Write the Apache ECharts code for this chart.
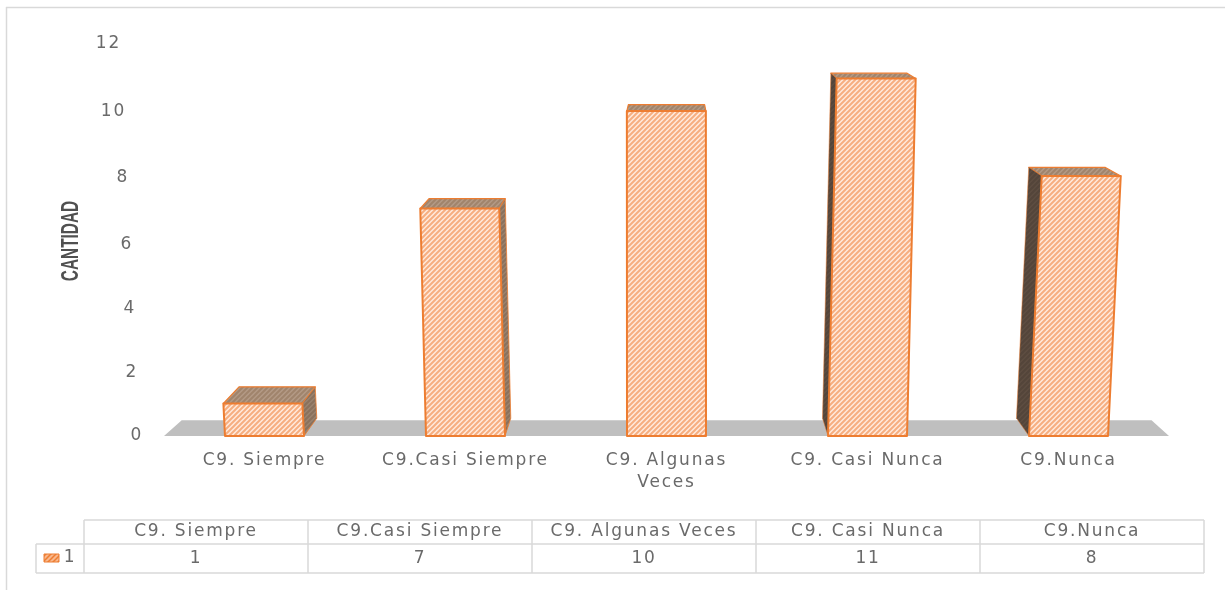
<!DOCTYPE html>
<html><head><meta charset="utf-8">
<style>html,body{margin:0;background:#fff}#c{width:1225px;height:590px;filter:blur(0.6px)}</style>
<script src="https://cdn.jsdelivr.net/npm/echarts@6/dist/echarts.min.js"></script>
</head><body><div id="c"></div>
<script>
const categories = ['C9. Siempre','C9.Casi Siempre','C9. Algunas Veces','C9. Casi Nunca','C9.Nunca'];
const values = [1,7,10,11,8];
const tableHeaders = ['C9. Siempre','C9.Casi Siempre','C9. Algunas Veces','C9. Casi Nunca','C9.Nunca'];
const seriesName = '1';
const yTicks = [0,2,4,6,8,10,12];

// the reference's stretched text
const ft = CanvasRenderingContext2D.prototype.fillText;
let spacing = '1.8px';
CanvasRenderingContext2D.prototype.fillText = function(t,x,y,m){
  this.letterSpacing = this.font.indexOf('bold') >= 0 ? '0px' : spacing;
  return m === undefined ? ft.call(this,t,x,y) : ft.call(this,t,x,y,m);
};

function hatch(bg, fg, lw){
  const p = 5, cv = document.createElement('canvas');
  cv.width = p; cv.height = p;
  const x = cv.getContext('2d');
  x.fillStyle = bg; x.fillRect(0,0,p,p);
  x.strokeStyle = fg; x.lineWidth = lw;
  x.beginPath();
  x.moveTo(-p,p); x.lineTo(p,-p);
  x.moveTo(0,2*p); x.lineTo(2*p,0);
  x.moveTo(0,p); x.lineTo(p,0);
  x.stroke();
  return {image:cv, repeat:'repeat'};
}
const ORANGE = '#ED7D31';
const frontFill = hatch('#FFEADC', '#F6AE80', 2);
const topFill = hatch('#B39A86', '#A0846C', 2);
const rightFill = hatch('#9A8370', '#8A715C', 2);
const leftFill = hatch('#5E4E42', '#54453A', 2);
const VP = [670,-73], T = 0.035, SKEW = 0.004, BARW = 79;

const back = p => [p[0]+(VP[0]-p[0])*T, p[1]+(VP[1]-p[1])*T];

function renderBar(params, api){
  const cat = api.value(0), v = api.value(1);
  const b = api.coord([cat,0]), t = api.coord([cat,v]);
  const dx = (b[0]-VP[0])*SKEW*v;
  const fl=[b[0]-BARW/2,b[1]], fr=[b[0]+BARW/2,b[1]];
  const tl=[t[0]-BARW/2+dx,t[1]], tr=[t[0]+BARW/2+dx,t[1]];
  const btl=back(tl), btr=back(tr), bbl=back(fl), bbr=back(fr);
  const poly=(pts,fill,lw)=>({type:'polygon',shape:{points:pts},style:{fill,stroke:ORANGE,lineWidth:lw,lineJoin:'round'}});
  const children=[];
  children.push(poly([tl,tr,btr,btl],topFill,1.2));
  if(btr[0]>tr[0]+1) children.push(poly([tr,fr,bbr,btr],rightFill,0.8));
  if(btl[0]<tl[0]-1) children.push(poly([tl,fl,bbl,btl],leftFill,0.5));
  children.push(poly([tl,tr,fr,fl],frontFill,2));
  return {type:'group',children};
}
function renderFloor(params, api){
  const g=params.coordSys, yb=api.coord([0,0])[1];
  const l=[g.x,yb], r=[g.x+g.width,yb];
  const bl=back(l), br=back(r);
  return {type:'polygon',shape:{points:[l,r,[br[0],bl[1]+2],[bl[0],bl[1]+2]]},style:{fill:'#BFBFBF'}};
}

const TX=84, TW=224, TY=520, R1=24, R2=29, LINE='#D9D9D9', TEXT='#6A6A6A';
const font='17px "DejaVu Sans"';
const gfx=[];
const ln=(x1,y1,x2,y2)=>gfx.push({type:'line',silent:true,shape:{x1,y1,x2,y2},style:{stroke:LINE,lineWidth:1.5}});
ln(6.5,7,6.5,590); ln(6,7.5,1225,7.5);
ln(TX,TY,TX+5*TW,TY); ln(36,TY+R1,TX+5*TW,TY+R1); ln(36,TY+R1+R2,TX+5*TW,TY+R1+R2);
ln(36,TY+R1,36,TY+R1+R2);
for(let i=0;i<=5;i++) ln(TX+i*TW,TY,TX+i*TW,TY+R1+R2);
const txt=(text,x,y)=>gfx.push({type:'text',silent:true,x,y,style:{text,font,fill:TEXT,align:'center',verticalAlign:'middle'}});
tableHeaders.forEach((h,i)=>txt(h,TX+TW*(i+.5),TY+R1/2));
values.forEach((v,i)=>txt(String(v),TX+TW*(i+.5),TY+R1+R2/2));
txt(seriesName,70,558);
gfx.push({type:'rect',silent:true,shape:{x:44,y:554,width:15,height:8},style:{fill:hatch('#F9B78C',ORANGE,1.5),stroke:ORANGE,lineWidth:1}});
gfx.push({type:'text',silent:true,x:71,y:241,rotation:Math.PI/2,scaleX:1.1,scaleY:1.75,
  style:{text:'CANTIDAD',font:'bold 14px "Liberation Sans"',fill:'#505050',align:'center',verticalAlign:'middle'}});

// y labels walk right and spread with the 3D perspective: [right pad, top pad, bottom pad]
const labelPad={0:[0,0,0],2:[5,4,0],4:[7,6,0],6:[10,8,0],8:[14,4,0],10:[17,2,0],12:[22,0,4]};
const rich={};
yTicks.forEach(t=>{const p=labelPad[t];rich['t'+t]={fontSize:17,fontFamily:'DejaVu Sans',color:TEXT,padding:[p[1],p[0],p[2],0]};});

const chart=echarts.init(document.getElementById('c'),null,{renderer:'canvas',width:1225,height:590});
chart.setOption({
  animation:false,
  grid:{left:164,top:46,width:1005,height:390,containLabel:false},
  xAxis:{type:'category',data:categories,axisLine:{show:false},axisTick:{show:false},
    axisLabel:{color:TEXT,margin:14,lineHeight:22,interval:0,fontSize:17,fontFamily:'DejaVu Sans',
      formatter:v=>v.replace('Algunas ','Algunas\n')}},
  yAxis:{type:'value',min:0,max:12,interval:2,splitLine:{show:false},axisLine:{show:false},axisTick:{show:false},
    axisLabel:{margin:21,align:'right',formatter:v=>`{t${v}|${v}}`,rich}},
  series:[
    {type:'custom',coordinateSystem:'cartesian2d',data:[[0,0]],renderItem:renderFloor,silent:true,z:1},
    {type:'custom',name:seriesName,coordinateSystem:'cartesian2d',data:values.map((v,i)=>[i,v]),renderItem:renderBar,z:2,encode:{x:0,y:1}}
  ],
  graphic:gfx
});
</script></body></html>
